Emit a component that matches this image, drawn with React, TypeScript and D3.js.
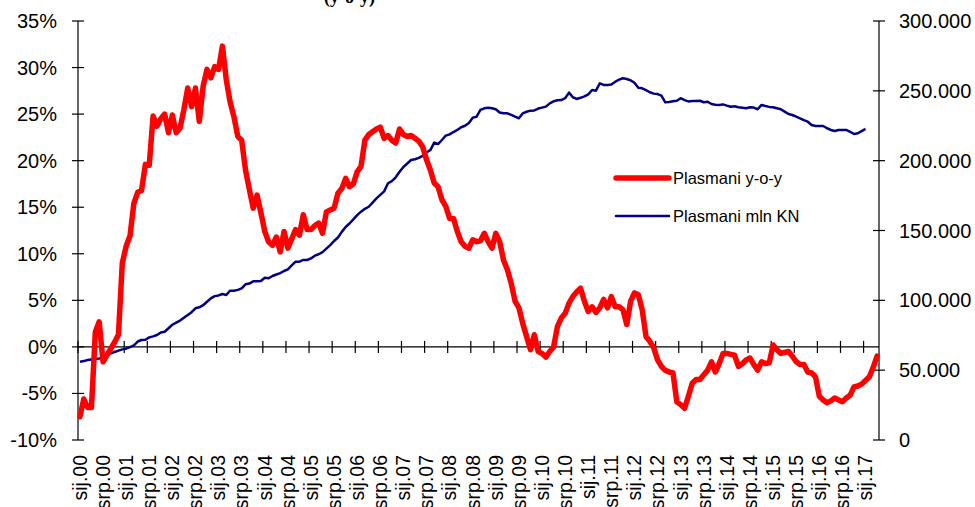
import React, { useEffect, useRef } from "react";
import * as d3 from "d3";

// months sij..pro, years 2000-2017
const monthNames = ["sij", "velj", "ožu", "tra", "svi", "lip", "srp", "kol", "ruj", "lis", "stu", "pro"];
const years = ["00", "01", "02", "03", "04", "05", "06", "07", "08", "09", "10", "11", "12", "13", "14", "15", "16", "17"];
const lastMonth = 4; // data runs to tra.17

// Plasmani y-o-y, %
const plasmaniYoY = [
  -7.5, -5.6, -6.5, -6.5, 1.6, 2.7, -1.6, -0.9, -0.2, 0.5, 1.3, 9.0,
  10.8, 11.9, 15.4, 16.6, 16.8, 19.6, 19.5, 24.8, 23.7, 24.5, 25.0, 23.0,
  24.9, 23.0, 23.5, 25.5, 27.8, 25.8, 27.8, 24.2, 28.0, 29.8, 28.9, 30.1,
  29.8, 32.3, 28.7, 26.3, 24.7, 22.6, 22.2, 19.0, 16.9, 14.9, 16.3, 14.4,
  12.4, 11.3, 10.9, 11.8, 10.2, 12.4, 10.6, 11.6, 12.6, 12.0, 14.2, 12.6,
  12.6, 13.0, 13.3, 12.2, 14.5, 14.7, 14.9, 16.5, 17.0, 18.1, 17.2, 17.5,
  18.8, 19.4, 22.2, 22.8, 23.1, 23.4, 23.6, 22.4, 22.7, 22.2, 21.9, 23.4,
  22.8, 22.6, 22.7, 22.4, 22.1, 21.5, 20.1, 19.0, 17.6, 17.2, 15.8, 15.1,
  13.8, 13.8, 12.4, 11.3, 10.8, 10.6, 11.5, 11.3, 11.4, 12.2, 11.3, 10.6,
  12.2, 11.3, 9.3, 8.3, 6.8, 4.9, 4.2, 2.5, 1.1, -0.3, 1.3, -0.5,
  -0.7, -1.1, -0.5, 0.0, 2.2, 3.1, 3.6, 4.7, 5.4, 5.9, 6.3, 4.9,
  3.8, 4.3, 3.7, 4.2, 5.1, 4.2, 5.4, 4.3, 4.3, 4.0, 2.4, 4.9,
  5.8, 5.6, 4.0, 1.1, 0.6, -0.1, -1.4, -2.1, -2.5, -2.7, -2.8, -5.9,
  -6.2, -6.6, -5.3, -3.9, -3.5, -3.5, -3.0, -2.5, -1.6, -2.7, -1.8, -0.7,
  -0.7, -0.8, -0.9, -2.1, -1.8, -1.4, -1.2, -1.9, -2.5, -1.6, -1.8, -1.7,
  0.2, -0.3, -0.7, -0.6, -0.5, -1.0, -1.6, -1.9, -1.9, -2.7, -2.8, -3.2,
  -5.3, -5.7, -6.0, -5.8, -5.5, -5.7, -5.9, -5.5, -5.2, -4.3, -4.2, -4.0,
  -3.6, -3.2, -2.2, -1.0,
];

// Plasmani mln KN (thousands of mln)
const plasmaniMln = [
  56.1, 56.5, 57.3, 57.7, 58.0, 58.3, 59.0, 60.5, 62.0, 63.0, 64.0, 64.9,
  65.4, 66.5, 67.8, 70.5, 71.6, 71.8, 73.5, 74.2, 75.2, 77.0, 77.5, 80.0,
  82.5, 84.0, 85.5, 87.5, 89.5, 91.5, 94.3, 95.0, 96.5, 99.0, 101.4, 103.0,
  103.5, 104.5, 103.8, 106.9, 106.9, 107.5, 108.6, 111.5, 112.0, 113.6, 113.6, 113.8,
  116.2, 115.8, 117.4, 118.5, 119.5, 121.0, 122.2, 125.0, 127.7, 127.7, 128.9, 128.9,
  130.0, 132.0, 133.0, 134.5, 137.0, 139.5, 142.5, 145.0, 149.0, 152.5, 155.0, 158.0,
  161.0, 163.5, 165.5, 167.0, 170.0, 173.0, 175.5, 178.0, 183.8, 185.4, 188.1, 192.0,
  195.5, 198.0, 200.5, 201.0, 202.0, 203.5, 205.8, 207.6, 212.9, 211.9, 214.8, 217.9,
  218.8, 220.5, 222.0, 223.9, 225.0, 227.0, 230.8, 231.5, 236.3, 237.5, 237.9, 237.5,
  236.8, 234.5, 233.9, 233.9, 232.8, 231.5, 230.3, 233.9, 235.0, 235.8, 236.0, 237.3,
  238.0, 238.7, 241.0, 242.5, 243.2, 243.4, 244.7, 248.7, 245.4, 244.2, 245.0, 246.0,
  247.5, 250.6, 250.1, 255.4, 254.2, 254.2, 254.5, 256.5, 258.0, 259.0, 258.5, 257.5,
  255.8, 252.2, 251.8, 250.5, 249.0, 248.0, 247.7, 246.5, 241.8, 242.0, 242.5, 242.9,
  244.7, 243.4, 242.4, 242.7, 242.8, 242.9, 241.8, 242.2, 240.6, 240.1, 239.9, 240.3,
  239.4, 238.6, 239.0, 238.2, 237.9, 237.5, 238.2, 238.0, 236.8, 239.9, 239.1, 238.5,
  238.2, 237.5, 236.8, 235.1, 233.4, 232.7, 231.5, 230.3, 229.0, 227.9, 225.5, 224.8,
  224.8, 224.8, 223.2, 222.0, 221.2, 222.0, 222.0, 222.0, 220.7, 219.1, 219.6, 221.2,
  222.7,
];

const leftTicks = [-10, -5, 0, 5, 10, 15, 20, 25, 30, 35];
const rightTicks = [0, 50000, 100000, 150000, 200000, 250000, 300000];

const months: string[] = [];
years.forEach((y, yi) => {
  monthNames.forEach((m, mi) => {
    if (yi === years.length - 1 && mi >= lastMonth) return;
    months.push(`${m}.${y}`);
  });
});

const W = 975;
const H = 507;
const FONT = "Arial, 'Liberation Sans', sans-serif";

export default function App() {
  const ref = useRef<SVGSVGElement>(null);

  useEffect(() => {
    const svg = d3.select(ref.current);
    svg.selectAll("*").remove();

    const left = 78, right = 879, top = 21, bottom = 440;

    const x = d3.scaleBand<string>().domain(months).range([left, right]);
    const cx = (m: string) => (x(m) as number) + x.bandwidth() / 2;
    const yL = d3.scaleLinear().domain([-10, 35]).range([bottom, top]);
    const yR = d3.scaleLinear().domain([0, 300000]).range([bottom, top]);
    const fmt = d3.formatLocale({ decimal: ",", thousands: ".", grouping: [3], currency: ["", ""] }).format(",");

    // title remnant (cut off at the top, as in the source)
    svg.append("text")
      .attr("x", 324).attr("y", 3)
      .style("font-family", "'Liberation Serif', serif")
      .style("font-size", "18px")
      .style("font-weight", "bold")
      .text("(y-o-y)");

    // left axis
    svg.append("line").attr("x1", left).attr("x2", left).attr("y1", top).attr("y2", bottom)
      .attr("stroke", "#000").attr("stroke-width", 1.2);
    leftTicks.forEach(t => {
      svg.append("line").attr("x1", left - 6).attr("x2", left + 6).attr("y1", yL(t)).attr("y2", yL(t))
        .attr("stroke", "#000").attr("stroke-width", 1.2);
      svg.append("text").attr("x", 57).attr("y", yL(t)).attr("dy", "0.35em")
        .attr("text-anchor", "end")
        .style("font-family", FONT).style("font-size", "20px").attr("fill", "#000")
        .text(`${t}%`);
    });

    // right axis
    svg.append("line").attr("x1", right).attr("x2", right).attr("y1", top).attr("y2", bottom)
      .attr("stroke", "#000").attr("stroke-width", 1.2);
    rightTicks.forEach(t => {
      svg.append("line").attr("x1", right - 6).attr("x2", right + 6).attr("y1", yR(t)).attr("y2", yR(t))
        .attr("stroke", "#000").attr("stroke-width", 1.2);
      svg.append("text").attr("x", 899).attr("y", yR(t)).attr("dy", "0.35em")
        .style("font-family", FONT).style("font-size", "20px").attr("fill", "#000")
        .text(fmt(t));
    });

    // category axis on zero line
    const y0 = yL(0);
    svg.append("line").attr("x1", left).attr("x2", right).attr("y1", y0).attr("y2", y0)
      .attr("stroke", "#000").attr("stroke-width", 1.2);
    months.forEach((m, i) => {
      if (i % 6 !== 0) return;
      const tx = x(m) as number;
      svg.append("line").attr("x1", tx).attr("x2", tx).attr("y1", y0 - 6).attr("y2", y0 + 6)
        .attr("stroke", "#000").attr("stroke-width", 1.2);
      svg.append("text")
        .attr("transform", `translate(${cx(m)},455) rotate(-90)`)
        .attr("dy", "0.35em")
        .attr("text-anchor", "end")
        .style("font-family", FONT).style("font-size", "19.5px").attr("fill", "#000")
        .text(m);
    });

    // series
    const lineL = d3.line<number>().x((_, i) => cx(months[i])).y(d => yL(d));
    const lineR = d3.line<number>().x((_, i) => cx(months[i])).y(d => yR(d * 1000));

    svg.append("path").attr("d", lineR(plasmaniMln))
      .attr("fill", "none").attr("stroke", "#000080").attr("stroke-width", 2.5)
      .attr("stroke-linejoin", "round");
    svg.append("path").attr("d", lineL(plasmaniYoY))
      .attr("fill", "none").attr("stroke", "#ff0000").attr("stroke-width", 5.5)
      .attr("stroke-linejoin", "round").attr("stroke-linecap", "round");

    // legend
    const legend = [
      { label: "Plasmani y-o-y", color: "#ff0000", w: 5.5, y: 178 },
      { label: "Plasmani mln KN", color: "#000080", w: 2.5, y: 216 },
    ];
    legend.forEach(l => {
      svg.append("line").attr("x1", 616).attr("x2", 669).attr("y1", l.y).attr("y2", l.y)
        .attr("stroke", l.color).attr("stroke-width", l.w).attr("stroke-linecap", "round");
      svg.append("text").attr("x", 673).attr("y", l.y).attr("dy", "0.35em")
        .style("font-family", FONT).style("font-size", "16.5px").attr("fill", "#000")
        .text(l.label);
    });
  }, []);

  return (
    <svg ref={ref} width={W} height={H}
      style={{ position: "absolute", left: 0, top: 0, background: "#fff" }} />
  );
}
